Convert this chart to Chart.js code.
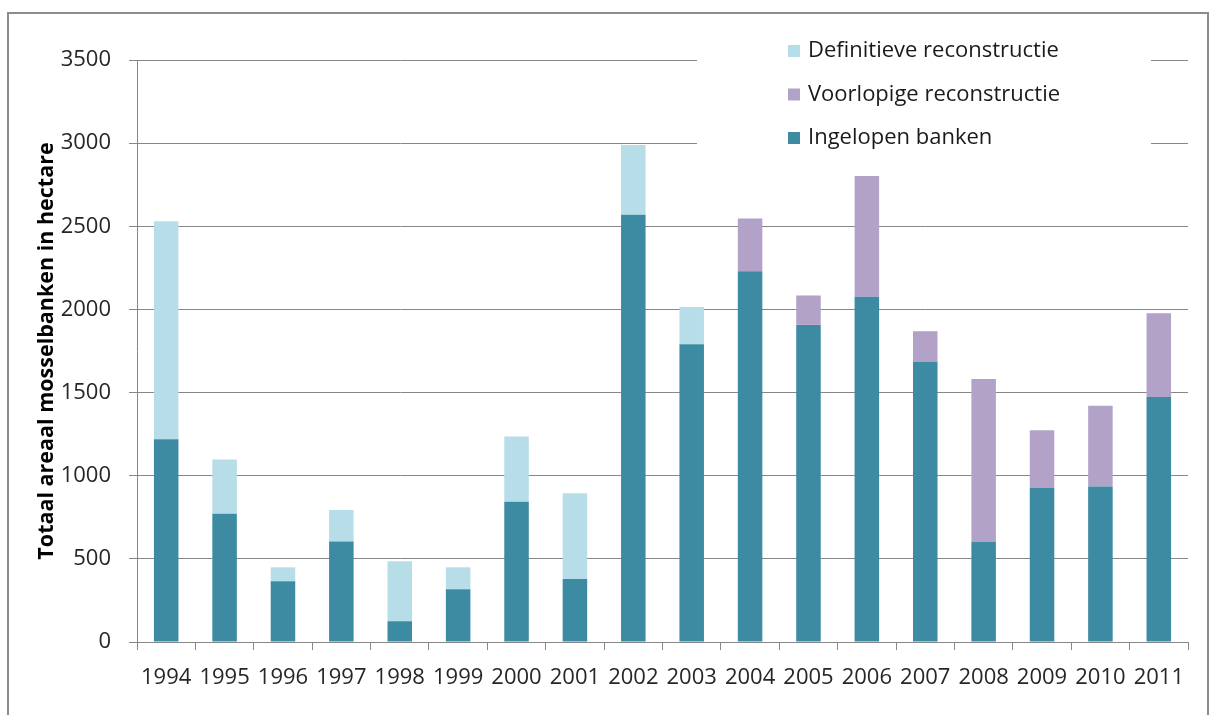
<!DOCTYPE html>
<html>
<head>
<meta charset="utf-8">
<script src="https://cdn.jsdelivr.net/npm/chart.js@4.4.1/dist/chart.umd.min.js"></script>
<style>
  html, body { margin: 0; padding: 0; background: #fff; }
  #wrap { position: relative; width: 1212px; height: 715px; overflow: hidden; }
  #frame {
    position: absolute; left: 7px; top: 12px; width: 1202px; height: 720px;
    border: 2px solid #8c8c8c; box-sizing: border-box;
  }
  #mussel-chart { position: absolute; left: 0; top: 0; }
</style>
</head>
<body>
<div id="wrap">
  <div id="frame"></div>
  <canvas id="mussel-chart" width="1212" height="715"></canvas>
</div>
<script>
const years = [
  "1994", "1995", "1996", "1997", "1998", "1999", "2000", "2001", "2002",
  "2003", "2004", "2005", "2006", "2007", "2008", "2009", "2010", "2011",
];
// hectare per jaar, gestapeld
const ingelopen = [1220, 772, 365, 604, 125, 317, 843, 379, 2569, 1791, 2230, 1907, 2076, 1685, 602, 927, 935, 1474];
const definitief = [1311, 325, 84, 190, 361, 132, 393, 516, 420, 223, null, null, null, null, null, null, null, null];
const voorlopig = [null, null, null, null, null, null, null, null, null, null, 317, 177, 726, 184, 979, 347, 485, 503];
const yTicks = [0, 500, 1000, 1500, 2000, 2500, 3000, 3500];

const FONT = "'Open Sans', sans-serif";
const gridColor = "#878787";

// legend drawn inside the plot, on a white box
const insideLegend = {
  id: "insideLegend",
  afterDatasetsDraw(chart) {
    const ctx = chart.ctx;
    const items = chart.data.datasets.slice().reverse();
    ctx.save();
    ctx.fillStyle = "#ffffff";
    ctx.fillRect(697, 28, 454, 128);
    ctx.font = "22px " + FONT;
    ctx.textBaseline = "middle";
    items.forEach((ds, i) => {
      const y = 51 + i * 43.5;
      ctx.fillStyle = ds.backgroundColor;
      ctx.fillRect(788, y - 6, 12, 12);
      ctx.fillStyle = "#1a1a1a";
      ctx.fillText(ds.label, 808, y);
    });
    ctx.restore();
  },
};

const ctx = document.getElementById("mussel-chart").getContext("2d");

new Chart(ctx, {
  type: "bar",
  data: {
    labels: years,
    datasets: [
      {
        label: "Ingelopen banken",
        data: ingelopen,
        backgroundColor: "#3c8ba2",
      },
      {
        label: "Voorlopige reconstructie",
        data: voorlopig,
        backgroundColor: "#b3a2c8",
      },
      {
        label: "Definitieve reconstructie",
        data: definitief,
        backgroundColor: "#b7dde8",
      },
    ],
  },
  options: {
    responsive: false,
    animation: false,
    devicePixelRatio: 1,
    layout: { padding: { top: 60, right: 24, bottom: 0, left: 0 } },
    datasets: {
      bar: { barPercentage: 0.42, categoryPercentage: 1 },
    },
    scales: {
      x: {
        stacked: true,
        grid: {
          drawOnChartArea: false,
          drawTicks: true,
          tickLength: 8,
          color: gridColor,
        },
        border: { display: true, color: gridColor },
        ticks: {
          color: "#262626",
          font: { family: FONT, size: 22 },
          padding: 15,
          maxRotation: 0,
          autoSkip: false,
        },
        afterFit: (s) => { s.height = 73; },
      },
      y: {
        stacked: true,
        min: 0,
        max: 3500,
        afterBuildTicks: (s) => { s.ticks = yTicks.map((v) => ({ value: v })); },
        grid: {
          color: gridColor,
          tickLength: 8,
        },
        border: { display: true, color: gridColor },
        ticks: {
          color: "#262626",
          font: { family: FONT, size: 22 },
          padding: 18,
          callback: (v) => String(v),
        },
        title: {
          display: true,
          text: "Totaal areaal mosselbanken in hectare",
          color: "#000",
          font: { family: FONT, size: 21.5, weight: "bold" },
          padding: { top: 34, bottom: 0 },
        },
        afterFit: (s) => { s.width = 137; },
      },
    },
    plugins: {
      legend: { display: false },
      tooltip: { enabled: false },
    },
  },
  plugins: [insideLegend],
});
</script>
</body>
</html>
